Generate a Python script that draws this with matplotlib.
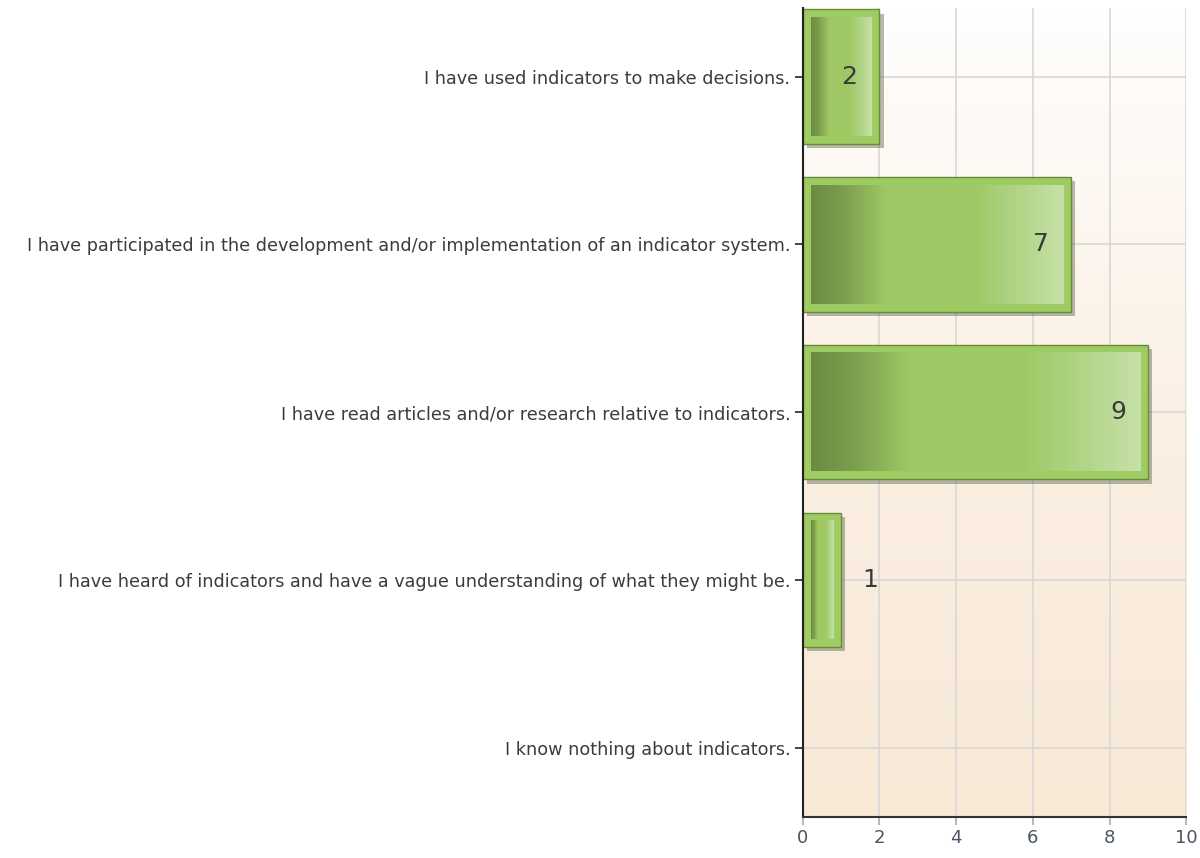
import numpy as np
import matplotlib.pyplot as plt
import matplotlib.patheffects as pe
from matplotlib.colors import LinearSegmentedColormap

plt.rcParams['font.family'] = ['DejaVu Sans']

# Datos de la encuesta
categorias = [
    "I have used indicators to make decisions.",
    "I have participated in the development and/or implementation of an indicator system.",
    "I have read articles and/or research relative to indicators.",
    "I have heard of indicators and have a vague understanding of what they might be.",
    "I know nothing about indicators.",
]
respuestas = [2, 7, 9, 1, 0]
ticks_x = [0, 2, 4, 6, 8, 10]

fig = plt.figure(figsize=(12, 8.58), dpi=100)
ax = fig.add_axes([0.669, 0.048, 0.3195, 0.943])

y = np.arange(len(categorias))
ax.set_xlim(0, 10)
ax.set_ylim(4.41, -0.41)

# fondo degradado blanco -> durazno
fondo = LinearSegmentedColormap.from_list("fondo", ["#fffefd", "#fbf0e4", "#f8e8d6"])
ax.imshow(np.linspace(0, 1, 256).reshape(-1, 1), cmap=fondo, aspect="auto",
          extent=(0, 10, 4.41, -0.41), zorder=0)

ax.grid(True, color="#d8d8d8", linewidth=1.2, zorder=1)
ax.set_axisbelow(True)

# degradado horizontal de la barra
verde = LinearSegmentedColormap.from_list("verde", [
    (0.0, "#6c8b42"), (0.12, "#7a9c4c"), (0.3, "#9fc865"),
    (0.65, "#a0c966"), (0.85, "#b4d68c"), (1.0, "#c6e1a8")])
grad = np.linspace(0, 1, 256).reshape(1, -1)

alto = 0.8
px = 10 / 383.0  # unidades x por pixel
py = 4.82 / 809.0  # unidades y por pixel
for yi, v in zip(y, respuestas):
    if v == 0:
        continue
    barra = ax.barh(yi, v, height=alto, color="#9ecb62", edgecolor="#6b8a3e",
                    linewidth=1.0, zorder=2)
    barra[0].set_path_effects([pe.SimplePatchShadow(offset=(3, -3), alpha=0.35),
                               pe.Normal()])
    ax.imshow(grad, cmap=verde, aspect="auto", zorder=3,
              extent=(8 * px, v - 8 * px, yi + alto / 2 - 8 * py, yi - alto / 2 + 8 * py))
    if v >= 2:
        ax.text(v - 30 * px, yi, str(v), ha="center", va="center",
                fontsize=18, color="#3a3a3a", zorder=4)
    else:
        ax.text(v + 29 * px, yi, str(v), ha="center", va="center",
                fontsize=18, color="#3a3a3a", zorder=4)

ax.set_yticks(y)
ax.set_yticklabels(categorias, fontsize=12.7, color="#3c3c3c")
ax.set_xticks(ticks_x)
ax.set_xticklabels([str(t) for t in ticks_x], fontsize=13, color="#4a5560")
ax.tick_params(axis="y", length=6, width=1.2, color="#222222", pad=3)
ax.tick_params(axis="x", length=6, width=1.2, color="#aaaaaa", pad=3)

for s in ["top", "right"]:
    ax.spines[s].set_visible(False)
ax.spines["left"].set_color("#222222")
ax.spines["left"].set_linewidth(1.5)
ax.spines["bottom"].set_color("#333333")
ax.spines["bottom"].set_linewidth(1.5)

plt.savefig("out.png", dpi=100)
